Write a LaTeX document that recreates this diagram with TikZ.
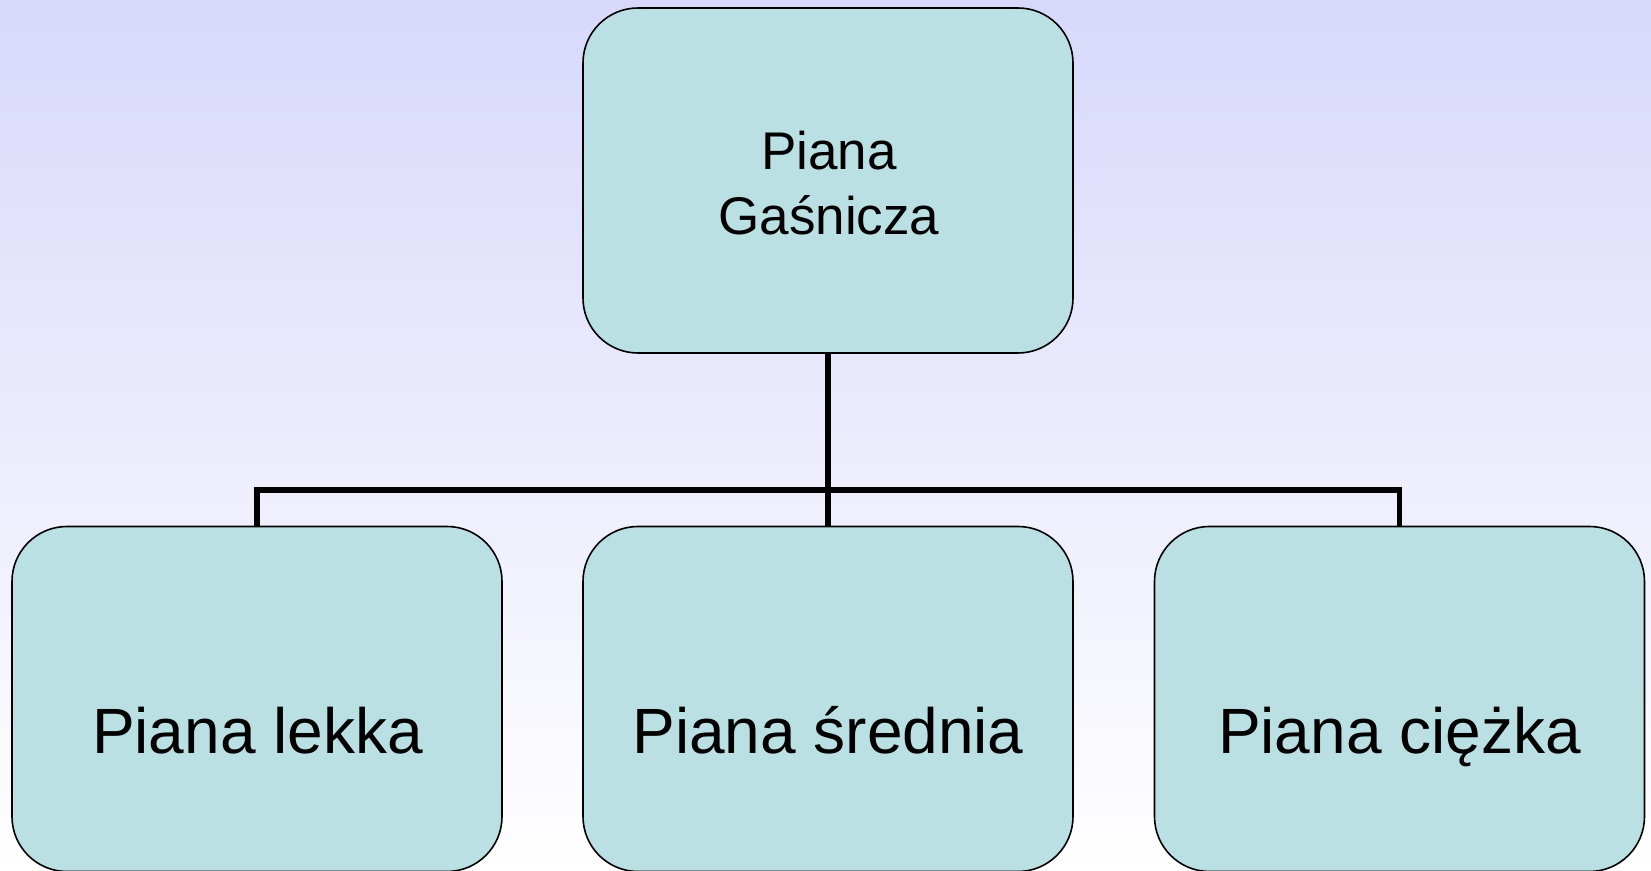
\documentclass[tikz,border=0pt]{standalone}
\usepackage{fontspec}
\setmainfont{Liberation Sans}
\usetikzlibrary{calc}
\definecolor{bgtop}{RGB}{216,216,251}
\definecolor{bgbot}{RGB}{255,255,255}
\definecolor{boxfill}{RGB}{186,224,227}
\tikzset{
  boxst/.style={draw=black, line width=0.8pt, fill=boxfill, rounded corners=27.5pt,
    minimum width=245pt, minimum height=172.5pt, inner sep=0pt, outer sep=0pt},
  conn/.style={draw=black, line width=2.6pt},
  bigtxt/.style={font=\fontsize{32pt}{38pt}\selectfont, inner sep=0pt, anchor=base},
  toptxt/.style={font=\fontsize{26.5pt}{32.5pt}\selectfont, inner sep=0pt, align=center}
}
\begin{document}
\begin{tikzpicture}[x=0.5pt, y=-0.5pt]
  \useasboundingbox (0,0) rectangle (1651,871);
  \shade[top color=bgtop, bottom color=bgbot] (0,0) rectangle (1651,871);
  \coordinate (bus) at (0,490);
  \node[boxst] (top) at (828,180.5) {};
  \node[boxst] (b1) at (257,699) {};
  \node[boxst] (b2) at (828,699) {};
  \node[boxst] (b3) at (1399.5,699) {};
  \draw[conn] (top.south) -- (top.south |- bus);
  \draw[conn] (b1.north) -- (b1.north |- bus) -- (b3.north |- bus) -- (b3.north);
  \draw[conn] (b2.north) -- (b2.north |- bus);
  \node[toptxt] (ttop) at (829,183) {Piana\\Gaśnicza};
  \node[bigtxt] (t1) at (257.5,754) {Piana lekka};
  \node[bigtxt] (t2) at (828,754) {Piana średnia};
  \node[bigtxt] (t3) at (1399.5,754) {Piana ciężka};
\end{tikzpicture}
\end{document}
